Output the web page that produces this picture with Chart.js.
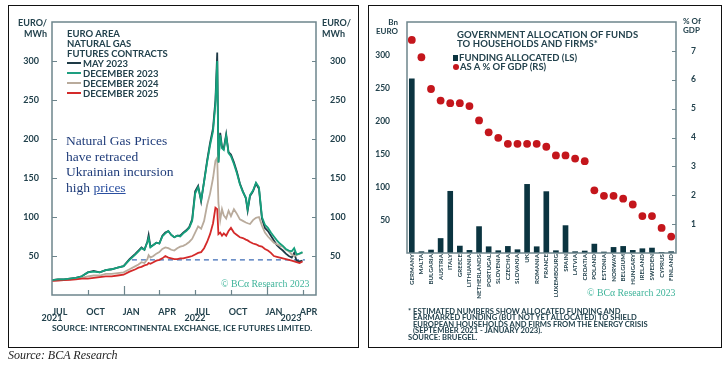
<!DOCTYPE html>
<html>
<head>
<meta charset="utf-8">
<script src="https://cdn.jsdelivr.net/npm/chart.js@4.4.1/dist/chart.umd.min.js"></script>
<style>
  body { margin:0; width:726px; height:369px; position:relative; overflow:hidden; background:#fff;
         font-family: Lato, "DejaVu Sans", sans-serif; color:#23424d; }
  .box { position:absolute; border:1.5px solid #111; box-sizing:border-box; }
  .t { position:absolute; font-weight:700; white-space:nowrap; }
  .serif { font-family:"Liberation Serif", "DejaVu Serif", serif; font-weight:400; }
  .mk { display:inline-block; width:14px; height:2px; vertical-align:middle; margin-right:2px; position:relative; top:-1px; }
  canvas { position:absolute; }
</style>
</head>
<body>
<div class="box" style="left:8px;top:5px;width:351px;height:343px"></div>
<div class="box" style="left:368px;top:5px;width:354px;height:343px"></div>

<canvas id="gasChart" width="360" height="345" style="left:0;top:0"></canvas>
<canvas id="fundChart" width="364" height="330" style="left:362px;top:0"></canvas>

<!-- left panel texts -->
<div class="t" style="left:0;width:47px;text-align:right;top:16.5px;font-size:9px;line-height:11px">EURO/<br>MWh</div>
<div class="t" style="left:322px;top:16.5px;font-size:9px;line-height:11px">EURO/<br>MWh</div>
<div class="t" style="left:67px;top:28.5px;font-size:9.5px;line-height:10px">
  EURO AREA<br>NATURAL GAS<br>FUTURES CONTRACTS<br>
  <span class="mk" style="background:#1e3a46"></span>MAY 2023<br>
  <span class="mk" style="background:#1e9f80"></span>DECEMBER 2023<br>
  <span class="mk" style="background:#b9ab9c"></span>DECEMBER 2024<br>
  <span class="mk" style="background:#d42a2a"></span>DECEMBER 2025
</div>
<div class="t serif" style="left:66px;top:133px;font-size:13.5px;line-height:15.5px;color:#1f3c7a">
  Natural Gas Prices<br>have retraced<br>Ukrainian incursion<br>high <span style="text-decoration:underline;color:#2a4fa0">prices</span>
</div>
<div class="t serif" style="left:221px;top:277.5px;font-size:9.8px;color:#3fb49a">© BCα Research 2023</div>
<div class="t" style="left:52px;top:312px;font-size:9px;transform:translateX(-50%)">2021</div>
<div class="t" style="left:195px;top:312px;font-size:9px;transform:translateX(-50%)">2022</div>
<div class="t" style="left:291px;top:312px;font-size:9px;transform:translateX(-50%)">2023</div>
<div class="t" style="left:52px;top:323px;font-size:8.4px">SOURCE: INTERCONTINENTAL EXCHANGE, ICE FUTURES LIMITED.</div>
<div class="t serif" style="left:8px;top:348px;font-size:12px;font-style:italic;color:#222">Source: BCA Research</div>

<!-- right panel texts -->
<div class="t" style="left:370px;width:28px;text-align:right;top:17.5px;font-size:8px;line-height:9px">Bn<br>EURO</div>
<div class="t" style="left:683px;top:17px;font-size:8px;line-height:9px">% Of<br>GDP</div>
<div class="t" style="left:457px;top:29.5px;font-size:9.5px;line-height:9.5px;letter-spacing:0.1px">GOVERNMENT ALLOCATION OF FUNDS<br>TO HOUSEHOLDS AND FIRMS*</div>
<div class="t" style="left:453px;top:52.5px;font-size:9.5px;line-height:9px">
  <span style="display:inline-block;width:5px;height:6px;background:#0b3440;margin-right:1px"></span>FUNDING ALLOCATED (LS)<br>
  <span style="display:inline-block;width:6px;height:6px;border-radius:50%;background:#c4161c;margin-right:1px"></span>AS A % OF GDP (RS)
</div>
<div class="t serif" style="left:587px;top:286.5px;font-size:9.8px;color:#3fb49a">© BCα Research 2023</div>
<div class="t" style="left:408px;top:307.5px;font-size:7.6px;line-height:6.6px">
  *&nbsp;ESTIMATED NUMBERS SHOW ALLOCATED FUNDING AND<br>
  <span style="padding-left:5px">EARMARKED FUNDING (BUT NOT YET ALLOCATED) TO SHIELD</span><br>
  <span style="padding-left:5px">EUROPEAN HOUSEHOLDS AND FIRMS FROM THE ENERGY CRISIS</span><br>
  <span style="padding-left:5px">(SEPTEMBER 2021 - JANUARY 2023).</span><br>
  SOURCE: BRUEGEL.
</div>

<script>
// ---- left chart data: months since 1 Jul 2021 ----
const xMonths = [0,0.5,1,1.5,2,2.5,3,3.5,4,4.5,5,5.5,6,6.5,
  7,7.25,7.5,7.75, 8,8.1,8.25,8.5,8.75, 9,9.25,9.5,9.75, 10,10.25,10.5,10.75,
  11,11.25,11.5,11.75, 12,12.25,12.5,12.75, 13,13.25,13.5,13.7,13.85,13.95,
  14.1,14.25,14.4,14.6,14.8, 15,15.25,15.5,15.75, 16,16.25,16.4,16.6,16.85,
  17.1,17.35,17.6,17.85, 18.1,18.35,18.6,18.85, 19.1,19.35,19.6,19.85,
  20.1,20.3,20.5,20.75, 21];

const may23 = [19,20,20,21,22,24,29,31,29,32,33,35,37,46,
  53,57,61,58, 69,77,62,64,67, 66,76,80,82, 77,74,76,76,
  80,83,87,97, 133,140,120,146, 172,195,214,250,311,170,
  208,190,188,206,183, 180,170,158,143, 133,124,108,127,133,
  143,136,98,86, 82,76,70,64, 60,57,53,50,
  48,54,44,43, 44];

const dec23 = [19,20,20,21,22,24,29,30,29,32,33,35,37,45,
  52,56,60,58, 68,73,61,64,67, 66,75,79,82, 77,74,76,75,
  79,82,86,95, 130,138,122,145, 170,192,210,245,300,170,
  205,188,186,204,182, 178,168,156,142, 132,125,110,128,134,
  144,138,100,90, 86,80,75,70, 66,63,59,57,
  56,60,52,53, 55];

const dec24 = [18.5,19,19.5,20,21,22,24,25,25,27,27,28,29,33,
  37,39,42,41, 46,51,48,50,53, 55,59,61,60, 58,57,60,62,
  63,65,68,72, 80,88,85,95, 115,130,150,172,176,118,
  96,110,102,98,108, 101,110,104,97, 95,93,92,91,96,
  99,100,89,80, 75,71,67,65, 63,62,58,56,
  52,50,51,53, 54];

const dec25 = [18,18.5,19,19.5,20,21,21,22,23,24,24,25,26,30,
  33,35,36,38, 39,41,40,42,44, 45,47,50,48, 47,46,46,47,
  47,48,49,50, 52,54,55,60, 68,78,92,112,110,78,
  80,76,79,76,82, 86,80,77,74, 73,71,70,68,66,
  65,63,62,59, 57,54,50,49, 48,47,46,45,
  44,43,42,41, 43];

const refLevel = 45;              // dashed line level
const refSpan = [6.7, 21.2];      // months covered by dashed line
const quarterLabels = ['JUL','OCT','JAN','APR','JUL','OCT','JAN','APR'];
const quarterLabelPos = [0.65,3.65,6.65,9.65,12.6,15.6,18.6,21.5];
const quarterTickPos = [3,6,9,12,15,18,21];
const gasTicks = [50,100,150,200,250,300];

// ---- right chart data ----
const countries = ['GERMANY','MALTA','BULGARIA','AUSTRIA','ITALY','GREECE','LITHUANIA','NETHERLANDS',
  'PORTUGAL','SLOVENIA','CZECHIA','SLOVAKIA','UK','ROMANIA','FRANCE','LUXEMBOURG','SPAIN','LATVIA',
  'CROATIA','POLAND','ESTONIA','NORWAY','BELGIUM','HUNGARY','IRELAND','SWEDEN','CYPRUS','FINLAND'];
const fundingBn = [264,2,4.5,22,93.5,10.5,4,40,9.5,3.5,10,5,104,9.5,93,3.5,41.5,2,3,13.5,1.5,8.5,10,4,6.5,7.5,1,2];
const pctGdp = [7.38,6.78,5.68,5.28,5.19,5.19,5.09,4.59,4.18,3.99,3.78,3.78,3.78,3.78,3.68,3.38,3.38,3.27,
  3.18,2.17,1.98,1.98,1.88,1.68,1.28,1.28,0.87,0.57];

const axisColor = '#6d858c';
const textColor = '#23424d';
Chart.defaults.font.family = 'Lato, "DejaVu Sans", sans-serif';
Chart.defaults.font.weight = 'bold';
Chart.defaults.color = textColor;

// frame + inward tick marks
const framePlugin = {
  id: 'frame',
  afterDatasetsDraw(chart, args, opts) {
    const { ctx, chartArea: a, scales } = chart;
    ctx.save();
    ctx.strokeStyle = axisColor;
    ctx.lineWidth = 1.5;
    ctx.strokeRect(a.left, a.top, a.right - a.left, a.bottom - a.top);
    ctx.lineWidth = 1.2;
    ctx.beginPath();
    (opts.left || []).forEach(v => {
      const y = Math.round(scales.y.getPixelForValue(v)) + 0.5;
      ctx.moveTo(a.left, y); ctx.lineTo(a.left + 5, y);
    });
    (opts.right || []).forEach(v => {
      const y = Math.round(scales.y2.getPixelForValue(v)) + 0.5;
      ctx.moveTo(a.right - 4, y); ctx.lineTo(a.right, y);
    });
    (opts.bottom || []).forEach(v => {
      const x = Math.round(scales.x.getPixelForValue(v)) + 0.5;
      const len = (v % 12 === 6) ? 9 : 5;
      ctx.moveTo(x, a.bottom); ctx.lineTo(x, a.bottom - len);
    });
    ctx.stroke();
    ctx.restore();
  }
};

const toXY = arr => arr.map((v, i) => ({ x: xMonths[i], y: v }));
const lineDs = (label, arr, color) => ({
  label, data: toXY(arr), borderColor: color, borderWidth: 1.8,
  pointRadius: 0, tension: 0, fill: false
});

new Chart(document.getElementById('gasChart'), {
  type: 'line',
  data: {
    datasets: [
      lineDs('DECEMBER 2023', dec23, '#15a07c'),
      lineDs('DECEMBER 2025', dec25, '#d42a2a'),
      lineDs('DECEMBER 2024', dec24, '#b9ab9c'),
      lineDs('MAY 2023', may23, '#1e3a46'),
      {
        label: 'ref', data: refSpan.map(m => ({ x: m, y: refLevel })),
        borderColor: '#3d6bb5', borderWidth: 1.1, borderDash: [5, 4], pointRadius: 0
      }
    ]
  },
  plugins: [framePlugin],
  options: {
    responsive: false, animation: false, devicePixelRatio: 1,
    layout: { padding: { top: 22, left: 0, right: 0, bottom: 0 } },
    plugins: {
      legend: { display: false }, tooltip: { enabled: false },
      frame: { left: gasTicks, right: gasTicks, bottom: quarterTickPos }
    },
    scales: {
      x: {
        type: 'linear', min: 0, max: 22.13,
        afterBuildTicks: s => { s.ticks = quarterLabelPos.map(v => ({ value: v })); },
        afterFit: s => { s.height = 50; },
        ticks: { callback: (v, i) => quarterLabels[i], font: { size: 9 }, padding: 4, maxRotation: 0, autoSkip: false },
        grid: { display: false }, border: { display: false }
      },
      y: {
        min: 0, max: 350,
        afterFit: s => { s.width = 52; },
        ticks: { stepSize: 50, callback: v => gasTicks.includes(v) ? v : '', font: { size: 9 }, padding: 5 },
        grid: { display: false }, border: { display: false }
      },
      y2: {
        position: 'right', min: 0, max: 350,
        afterFit: s => { s.width = 44; },
        ticks: { stepSize: 50, callback: v => gasTicks.includes(v) ? v : '', font: { size: 9 }, padding: 6 },
        grid: { display: false }, border: { display: false }
      }
    }
  }
});

new Chart(document.getElementById('fundChart'), {
  type: 'bar',
  data: {
    labels: countries,
    datasets: [
      {
        type: 'line', label: 'AS A % OF GDP (RS)', data: pctGdp, yAxisID: 'y2',
        showLine: false, pointRadius: 3.9, pointBackgroundColor: '#c4161c', pointBorderWidth: 0
      },
      {
        label: 'FUNDING ALLOCATED (LS)', data: fundingBn, yAxisID: 'y',
        backgroundColor: '#0b3440', barThickness: 5
      }
    ]
  },
  plugins: [framePlugin],
  options: {
    responsive: false, animation: false, devicePixelRatio: 1,
    layout: { padding: { top: 22, left: 0, right: 0, bottom: 0 } },
    plugins: {
      legend: { display: false }, tooltip: { enabled: false },
      frame: { right: [1, 2, 3, 4, 5, 6, 7] }
    },
    scales: {
      x: {
        afterFit: s => { s.height = 77; },
        ticks: { minRotation: 90, maxRotation: 90, autoSkip: false, font: { size: 6.2 }, padding: -7 },
        grid: { display: false }, border: { display: false }
      },
      y: {
        min: 0, max: 350,
        afterFit: s => { s.width = 45; },
        ticks: { stepSize: 50, callback: v => (v > 0 && v < 350) ? v : '', font: { size: 8.5 }, padding: 9 },
        grid: { display: false }, border: { display: false }
      },
      y2: {
        position: 'right', min: 0, max: 8,
        afterFit: s => { s.width = 50; },
        ticks: { stepSize: 1, callback: v => (v > 0 && v < 8) ? v : '', font: { size: 8.5 }, padding: 7 },
        grid: { display: false }, border: { display: false }
      }
    }
  }
});
</script>
</body>
</html>
